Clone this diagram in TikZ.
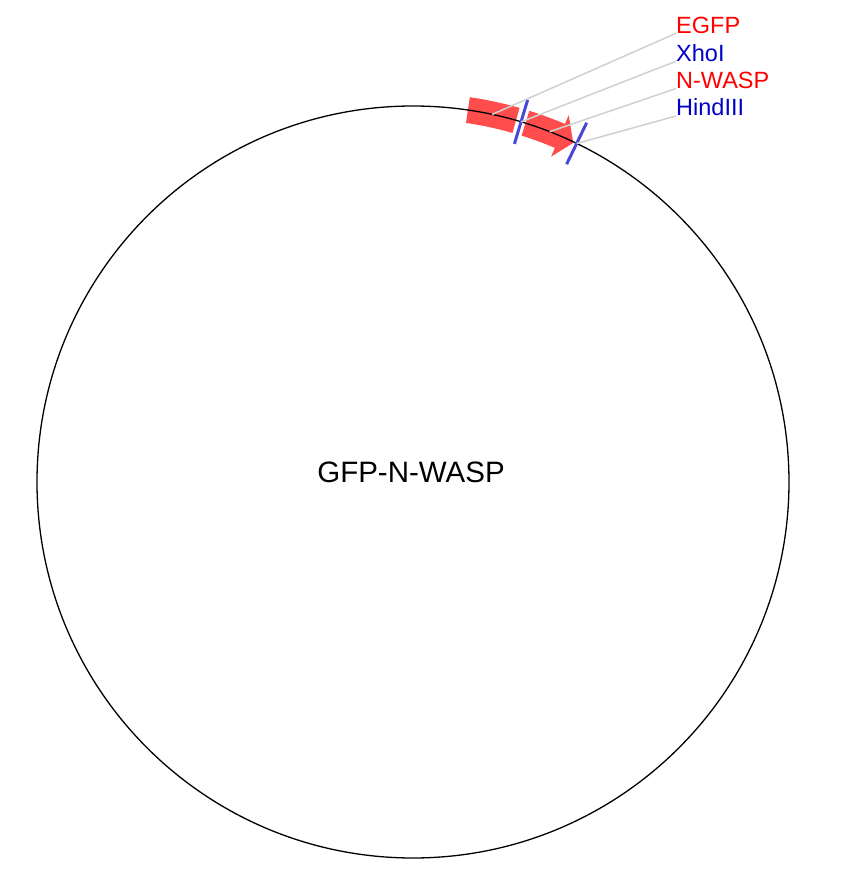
\documentclass[tikz,border=0pt]{standalone}
\usepackage{fontspec}
\setmainfont{Liberation Sans}
\usepackage{tikz}
\usetikzlibrary{calc}
\definecolor{featRed}{HTML}{FF4D4D}
\definecolor{siteBlue}{HTML}{4848D8}
\definecolor{labelRed}{HTML}{FF0000}
\definecolor{labelBlue}{HTML}{0000C8}
\definecolor{leaderGrey}{HTML}{D0D0D0}

\begin{document}
\begin{tikzpicture}[x=1pt, y=1pt,
  feature/.style={fill=featRed, draw=none},
  site/.style={draw=siteBlue, line width=3pt},
  leader/.style={draw=leaderGrey, line width=1.5pt},
  featlabel/.style={anchor=base west, inner sep=0pt, font=\fontsize{23.5}{28}\selectfont}]

  \useasboundingbox (-413, -397) rectangle (443, 482);

  % features on the backbone
  \fill[feature] (81.6:389) arc[start angle=81.6, end angle=74.1, radius=389]
    -- (74.1:363) arc[start angle=74.1, end angle=81.6, radius=363] -- cycle;
  \fill[feature] (72.6:389) arc[start angle=72.6, end angle=67, radius=389]
    -- (67:398.5) -- (64.7:375) -- (67:353.5)
    -- (67:363) arc[start angle=67, end angle=72.6, radius=363] -- cycle;

  \draw[line width=1.3pt] (0,0) circle[radius=376];
  \node[inner sep=0pt, font=\fontsize{29.5}{34}\selectfont] (name) at (-2, 10) {GFP-N-WASP};

  % restriction sites
  \draw[site] (73.3:353) -- (73.3:399);
  \draw[site] (64.2:353) -- (64.2:399);

  \coordinate (egfpPt) at (77.85:376);
  \coordinate (xhoPt) at (73.3:376);
  \coordinate (waspPt) at (68.7:376);
  \coordinate (hindPt) at (64.2:376);

  \node[featlabel, text=labelRed] (egfp) at (263, 448.7) {EGFP};
  \node[featlabel, text=labelBlue] (xho) at (263, 420.8) {XhoI};
  \node[featlabel, text=labelRed] (wasp) at (263, 393.5) {N-WASP};
  \node[featlabel, text=labelBlue] (hind) at (263, 366) {HindIII};

  \draw[leader] (egfpPt) -- (egfp.base west);
  \draw[leader] (xhoPt) -- (xho.base west);
  \draw[leader] (waspPt) -- (wasp.base west);
  \draw[leader] (hindPt) -- (hind.base west);

\end{tikzpicture}
\end{document}
